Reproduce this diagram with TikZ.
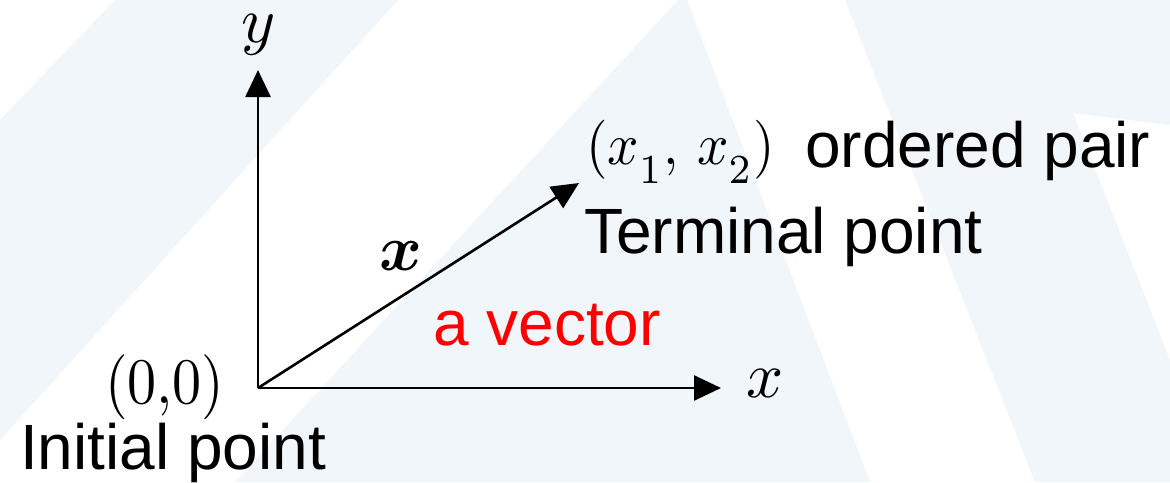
\documentclass[tikz,border=0pt]{standalone}
\usepackage{amsmath,bm}
\usepackage[no-math]{fontspec}
\newfontfamily\sansf{Liberation Sans}
\usetikzlibrary{arrows.meta}
\definecolor{bgblue}{RGB}{241,246,250}
\definecolor{vred}{RGB}{255,0,0}
\begin{document}
\begin{tikzpicture}[x=1pt,y=-1pt,
  axis/.style={line width=2.6pt,-{Triangle[length=27pt,width=25pt]}},
  sanslabel/.style={font=\sansf\fontsize{64}{70}\selectfont, inner sep=0pt, anchor=base west},
  mathlabel/.style={inner sep=0pt},
  bgshape/.style={fill=bgblue, draw=none}]
\fill[white] (0,0) rectangle (1170,482);
\useasboundingbox (0,0) rectangle (1170,482);
% background
\path[bgshape] (115,0) -- (398,0) -- (0,440) -- (0,120) -- cycle;
\path[bgshape] (678,0) -- (687,0) -- (870,482) -- (235,482) -- cycle;
\path[bgshape] (845,0) -- (1170,0) -- (1170,125) -- (1073,113) -- (1170,360) -- (1170,482) -- (1035,482) -- cycle;
% axes and vector
\coordinate (O) at (258,388);
\coordinate (ytip) at (258,70);
\coordinate (xtip) at (721,388);
\coordinate (vtip) at (579,183);
\draw[axis] (O) -- (ytip);
\draw[axis] (O) -- (xtip);
\draw[axis] (O) -- (vtip);
% math labels
\node[mathlabel, anchor=base] (ylab) at (259,42) {\scalebox{6.5}{$y$}};
\node[mathlabel, anchor=base west] (xlab) at (746,397) {\scalebox{6.5}{$x$}};
\node[mathlabel, anchor=base west] (vlab) at (379,270) {\scalebox{6.5}{$\bm{x}$}};
\node[mathlabel, anchor=base west] (pair) at (586,164) {\scalebox{5.5}[5.9]{$(x_{\raisebox{-0.4ex}{$\scriptstyle 1$}},\,x_{\raisebox{-0.4ex}{$\scriptstyle 2$}})$}};
\node[mathlabel, anchor=base west] (orig) at (105,403) {\scalebox{5.8}[6.5]{$(0{,}0)$}};
% text labels
\node[sanslabel] (ordered) at (805,167) {ordered pair};
\node[sanslabel] (terminal) at (584,253) {Terminal point};
\node[sanslabel, text=vred] (avec) at (433,345) {a vector};
\node[sanslabel] (initial) at (20,469) {Initial point};
\end{tikzpicture}
\end{document}
